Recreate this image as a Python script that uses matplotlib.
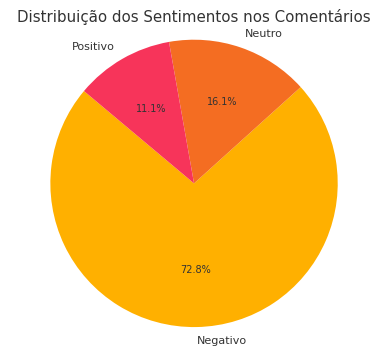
import matplotlib.pyplot as plt

labels = ['Negativo', 'Neutro', 'Positivo']
values = [72.8, 16.1, 11.1]
colors = ['#FFB000', '#F46D22', '#F7345A']


def main():
    fig, ax = plt.subplots(figsize=(3.92, 3.52), dpi=100)
    wedges, texts, autotexts = ax.pie(values, labels=labels, colors=colors,
                                      autopct='%1.1f%%', startangle=140,
                                      textprops={'fontsize': 8, 'color': '#333333'})
    for t in autotexts:
        t.set_fontsize(7)
    ax.set_title('Distribuição dos Sentimentos nos Comentários', fontsize=10.8,
                 color='#333333', pad=1)
    ax.axis('equal')
    plt.subplots_adjust(left=0.018, right=0.972, top=0.928, bottom=0.03)
    plt.savefig('out.png', dpi=100)


if __name__ == '__main__':
    main()
